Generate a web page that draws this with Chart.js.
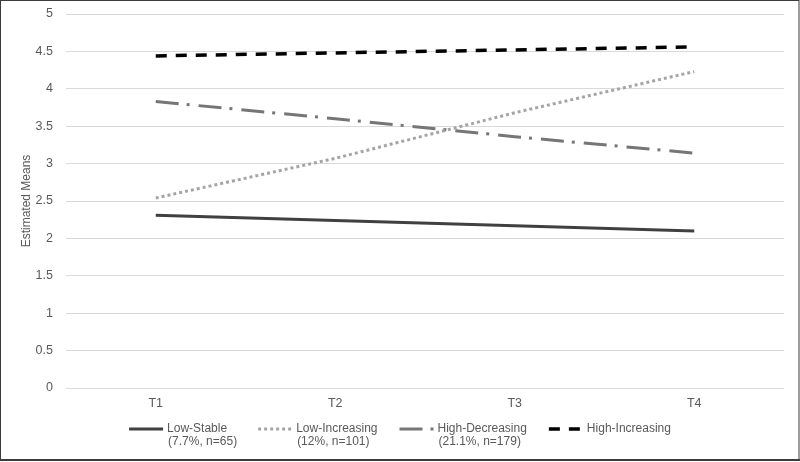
<!DOCTYPE html>
<html>
<head>
<meta charset="utf-8">
<script src="https://cdn.jsdelivr.net/npm/chart.js@4.4.0/dist/chart.umd.min.js"></script>
<style>
  html, body { margin: 0; padding: 0; background: #fff; }
  canvas { display: block; }
</style>
</head>
<body>
<canvas id="meansChart" width="800" height="462"></canvas>
<script>
const periods = ['T1', 'T2', 'T3', 'T4'];
const lowStable = [2.31, 2.24, 2.17, 2.10];
const lowIncreasing = [2.54, 3.07, 3.68, 4.23];
const highDecreasing = [3.83, 3.60, 3.36, 3.14];
const highIncreasing = [4.44, 4.48, 4.52, 4.56];
const seriesNames = ['Low-Stable', 'Low-Increasing', 'High-Decreasing', 'High-Increasing'];
const seriesNotes = ['(7.7%, n=65)', '(12%, n=101)', '(21.1%, n=179)', ''];
const yMin = 0, yMax = 5, yStep = 0.5;

const textColor = '#595959';
const fontFamily = '"Liberation Sans", Arial, sans-serif';

// legend drawn by hand so the two-line labels sit like the original
const bottomLegend = {
  id: 'bottomLegend',
  afterDraw(chart) {
    const c = chart.ctx;
    const sets = chart.data.datasets;
    c.save();
    c.font = '12px ' + fontFamily;
    c.textBaseline = 'middle';
    c.textAlign = 'left';

    const symbolW = 34, symbolGap = 4, itemGap = 22;
    const widths = sets.map((ds, i) =>
      symbolW + symbolGap + Math.max(c.measureText(seriesNames[i]).width, c.measureText(seriesNotes[i]).width));
    const total = widths.reduce((a, b) => a + b, 0) + itemGap * (sets.length - 1);
    let x = (chart.width - total) / 2;
    const y = 429;

    sets.forEach((ds, i) => {
      c.beginPath();
      c.strokeStyle = ds.borderColor;
      c.lineWidth = ds.borderWidth;
      c.lineCap = 'butt';
      c.setLineDash(ds.borderDash || []);
      c.moveTo(x, y);
      c.lineTo(x + symbolW, y);
      c.stroke();
      c.setLineDash([]);
      c.fillStyle = textColor;
      c.fillText(seriesNames[i], x + symbolW + symbolGap, y);
      if (seriesNotes[i]) c.fillText(seriesNotes[i], x + symbolW + symbolGap + 1, y + 13);
      x += widths[i] + itemGap;
    });

    // frame round the picture
    c.strokeStyle = '#3c3c3c';
    c.lineWidth = 1;
    c.strokeRect(0.5, 0.5, chart.width - 1.5, chart.height - 2);
    c.fillStyle = '#3c3c3c';
    c.fillRect(0, chart.height - 3, chart.width, 2);
    c.restore();
  }
};

const ctx = document.getElementById('meansChart').getContext('2d');

const meansChart = new Chart(ctx, {
  type: 'line',
  data: {
    labels: periods,
    datasets: [
      {
        label: seriesNames[0],
        data: lowStable,
        borderColor: '#404040',
        borderWidth: 3
      },
      {
        label: seriesNames[1],
        data: lowIncreasing,
        borderColor: '#a5a5a5',
        borderWidth: 3,
        borderDash: [3, 3]
      },
      {
        label: seriesNames[2],
        data: highDecreasing,
        borderColor: '#767676',
        borderWidth: 3,
        borderDash: [23, 8, 3, 9]
      },
      {
        label: seriesNames[3],
        data: highIncreasing,
        borderColor: '#000000',
        borderWidth: 3.5,
        borderDash: [11, 9]
      }
    ]
  },
  options: {
    responsive: false,
    animation: false,
    layout: {
      padding: { top: 14, right: 16, bottom: 44, left: 0 }
    },
    elements: {
      point: { radius: 0, hoverRadius: 0 },
      line: { tension: 0, borderCapStyle: 'butt', fill: false }
    },
    plugins: {
      legend: { display: false },
      tooltip: { enabled: false }
    },
    scales: {
      x: {
        offset: true,
        grid: { display: false, drawTicks: false },
        border: { display: false },
        ticks: {
          color: textColor,
          padding: 8,
          font: { family: fontFamily, size: 12.5 }
        },
        afterFit(scale) { scale.height = 30; }
      },
      y: {
        min: yMin,
        max: yMax,
        grid: { color: '#d9d9d9', lineWidth: 1, drawTicks: false },
        border: { display: false },
        ticks: {
          stepSize: yStep,
          color: textColor,
          padding: 13,
          font: { family: fontFamily, size: 12.5 },
          callback: value => String(value)
        },
        title: {
          display: true,
          text: 'Estimated Means',
          color: textColor,
          padding: { top: 19, bottom: 0 },
          font: { family: fontFamily, size: 12 }
        },
        afterFit(scale) {
          scale.width = 66;
          scale.paddingTop = 0;
          scale.paddingBottom = 0;
        }
      }
    }
  },
  plugins: [bottomLegend]
});
</script>
</body>
</html>
